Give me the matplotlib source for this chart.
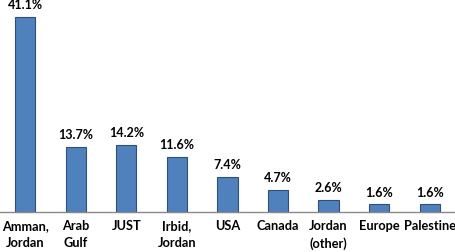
import matplotlib
matplotlib.use("Agg")
import matplotlib.pyplot as plt

# 数据
categories = ["Amman,\nJordan", "Arab\nGulf", "JUST", "Irbid,\nJordan", "USA",
              "Canada", "Jordan\n(other)", "Europe", "Palestine"]
values = [41.1, 13.7, 14.2, 11.6, 7.4, 4.7, 2.6, 1.6, 1.6]

plt.rcParams['font.family'] = ['Lato', 'DejaVu Sans']

fig = plt.figure(figsize=(4.55, 2.52), dpi=100)
ax = fig.add_axes([0.0, 40 / 252, 1.0, 1 - 40 / 252])

x = range(len(categories))
bars = ax.bar(x, values, width=0.4, color="#4F81BD", edgecolor="#2F4F7A", linewidth=0.8)

# 柱子上面的百分比
for b, v in zip(bars, values):
    ax.annotate(f"{v:.1f}%", (b.get_x() + b.get_width() / 2, v),
                xytext=(0, 4), textcoords="offset points",
                ha="center", va="bottom", fontsize=9, fontweight="bold")

ax.set_xlim(-0.5, len(categories) - 0.5)
ax.set_ylim(0, 44.6)
ax.set_xticks(list(x))
ax.set_xticklabels(categories, fontsize=9.2, fontweight="bold", linespacing=1.45)
ax.tick_params(axis="x", length=0, pad=6)
ax.set_yticks([])
for s in ["top", "right", "left"]:
    ax.spines[s].set_visible(False)
ax.spines["bottom"].set_color("#888888")
ax.spines["bottom"].set_linewidth(1.0)

fig.savefig("out.png", dpi=100)
